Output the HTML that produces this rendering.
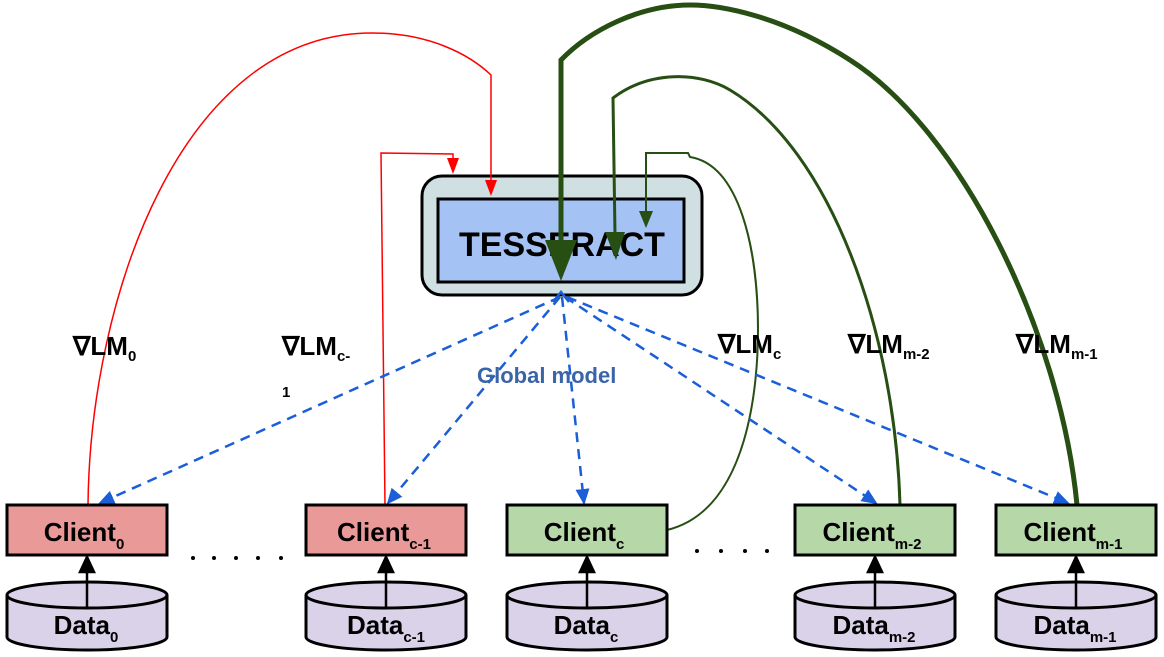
<!DOCTYPE html>
<html><head><meta charset="utf-8"><style>
html,body{margin:0;padding:0;background:#fff;}
svg{display:block;font-family:"Liberation Sans",Arial,sans-serif;}
</style></head><body>
<svg width="1164" height="657" viewBox="0 0 1164 657" xmlns="http://www.w3.org/2000/svg">
<defs>
<marker id="bl" markerWidth="16" markerHeight="14" refX="14" refY="7" orient="auto" markerUnits="userSpaceOnUse"><path d="M0,0 L16,7 L0,14 Z" fill="#1a5ed8"/></marker>
</defs>
<!-- Tesseract -->
<rect x="422" y="176" width="280" height="119" rx="20" fill="#d0dfe2" stroke="#000" stroke-width="3"/>
<rect x="438" y="199" width="246" height="83" fill="#a4c2f4" stroke="#000" stroke-width="3"/>
<text x="562" y="256" font-size="34" font-weight="bold" text-anchor="middle" fill="#000">TESSERACT</text>

<!-- red -->
<path d="M88,505 C90,300 180,33 372,33 C430,33 470,55 491,75 L491,182" fill="none" stroke="#f00" stroke-width="1.5"/>
<path d="M485,180 L497,180 L491,196 Z" fill="#f00"/>
<path d="M385,505 L381,153 L453,154 L453,160" fill="none" stroke="#f00" stroke-width="1.5"/>
<path d="M447,158 L459,158 L453,174 Z" fill="#f00"/>

<!-- green -->
<path d="M1077,505 C1060,330 960,130 850,60 C780,15 720,5 690,5 C640,5 590,30 561,60 L561,250" fill="none" stroke="#274e13" stroke-width="5"/>
<path d="M545,240 L577,240 L561,281 Z" fill="#274e13"/>
<path d="M900,505 C895,330 830,150 730,90 C700,72 650,70 613,98 L615,235" fill="none" stroke="#274e13" stroke-width="3"/>
<path d="M605,232 L625,232 L616,260 Z" fill="#274e13"/>
<path d="M667,530 C750,510 758,380 758,330 C758,250 740,165 690,157 L688,153 L646,153 L646,212" fill="none" stroke="#274e13" stroke-width="2"/>
<path d="M639,211 L653,211 L646,228 Z" fill="#274e13"/>

<!-- blue dashed -->
<g stroke="#1a5ed8" stroke-width="2.5" stroke-dasharray="10,7" fill="none">
<path d="M560,297 L100,503" marker-end="url(#bl)"/>
<path d="M560,297 L388,503" marker-end="url(#bl)"/>
<path d="M562,297 L584,503" marker-end="url(#bl)"/>
<path d="M565,297 L876,503" marker-end="url(#bl)"/>
<path d="M567,297 L1068,503" marker-end="url(#bl)"/>
</g>
<path d="M553,302 L561,292 L569,302" stroke="#1a5ed8" stroke-width="2.5" fill="none"/>

<text x="477" y="383" font-size="22" font-weight="bold" fill="#3a64a8">Global model</text>

<!-- labels -->
<g font-weight="bold" fill="#000">
<text x="73" y="355" font-size="26">∇LM<tspan font-size="15" dy="6">0</tspan></text>
<text x="282" y="355" font-size="26">∇LM<tspan font-size="15" dy="6">c-</tspan></text>
<text x="282" y="397" font-size="15">1</text>
<text x="718" y="353" font-size="26">∇LM<tspan font-size="15" dy="6">c</tspan></text>
<text x="848" y="353" font-size="26">∇LM<tspan font-size="15" dy="6">m-2</tspan></text>
<text x="1016" y="353" font-size="26">∇LM<tspan font-size="15" dy="6">m-1</tspan></text>
</g>

<!-- clients -->
<g stroke="#000" stroke-width="3">
<rect x="7" y="505" width="160" height="50" fill="#ea9999"/>
<rect x="306" y="505" width="160" height="50" fill="#ea9999"/>
<rect x="507" y="505" width="160" height="50" fill="#b6d7a8"/>
<rect x="795" y="505" width="160" height="50" fill="#b6d7a8"/>
<rect x="996" y="505" width="160" height="50" fill="#b6d7a8"/>
</g>
<g font-size="26" font-weight="bold" fill="#000" text-anchor="middle">
<text x="84" y="541">Client<tspan font-size="15" dy="8">0</tspan></text>
<text x="384" y="541">Client<tspan font-size="15" dy="8">c-1</tspan></text>
<text x="584" y="541">Client<tspan font-size="15" dy="8">c</tspan></text>
<text x="872" y="541">Client<tspan font-size="15" dy="8">m-2</tspan></text>
<text x="1073" y="541">Client<tspan font-size="15" dy="8">m-1</tspan></text>
</g>
<g fill="#000">
<circle cx="193" cy="558" r="2"/><circle cx="214" cy="558" r="2"/><circle cx="236" cy="558" r="2"/><circle cx="258" cy="558" r="2"/><circle cx="281" cy="558" r="2"/>
<circle cx="697" cy="551" r="2"/><circle cx="721" cy="551" r="2"/><circle cx="745" cy="551" r="2"/><circle cx="767" cy="551" r="2"/>
</g>

<!-- data cylinders -->
<g stroke="#000" stroke-width="3" fill="#d9d2e9">
<path d="M7,595 L7,637 A80,13 0 0 0 167,637 L167,595"/><ellipse cx="87" cy="595" rx="80" ry="13"/>
<path d="M306,595 L306,637 A80,13 0 0 0 466,637 L466,595"/><ellipse cx="386" cy="595" rx="80" ry="13"/>
<path d="M507,595 L507,637 A80,13 0 0 0 667,637 L667,595"/><ellipse cx="587" cy="595" rx="80" ry="13"/>
<path d="M795,595 L795,637 A80,13 0 0 0 955,637 L955,595"/><ellipse cx="875" cy="595" rx="80" ry="13"/>
<path d="M996,595 L996,637 A80,13 0 0 0 1156,637 L1156,595"/><ellipse cx="1076" cy="595" rx="80" ry="13"/>
</g>
<g stroke="#000" stroke-width="2.5">
<line x1="87" y1="608" x2="87" y2="570"/><path d="M80,572 L87,557 L94,572 Z" fill="#000"/>
<line x1="386" y1="608" x2="386" y2="570"/><path d="M379,572 L386,557 L393,572 Z" fill="#000"/>
<line x1="587" y1="608" x2="587" y2="570"/><path d="M580,572 L587,557 L594,572 Z" fill="#000"/>
<line x1="875" y1="608" x2="875" y2="570"/><path d="M868,572 L875,557 L882,572 Z" fill="#000"/>
<line x1="1076" y1="608" x2="1076" y2="570"/><path d="M1069,572 L1076,557 L1083,572 Z" fill="#000"/>
</g>
<g font-size="26" font-weight="bold" fill="#000" text-anchor="middle">
<text x="86" y="634">Data<tspan font-size="15" dy="8">0</tspan></text>
<text x="386" y="634">Data<tspan font-size="15" dy="8">c-1</tspan></text>
<text x="586" y="634">Data<tspan font-size="15" dy="8">c</tspan></text>
<text x="874" y="634">Data<tspan font-size="15" dy="8">m-2</tspan></text>
<text x="1075" y="634">Data<tspan font-size="15" dy="8">m-1</tspan></text>
</g>
</svg>
</body></html>
